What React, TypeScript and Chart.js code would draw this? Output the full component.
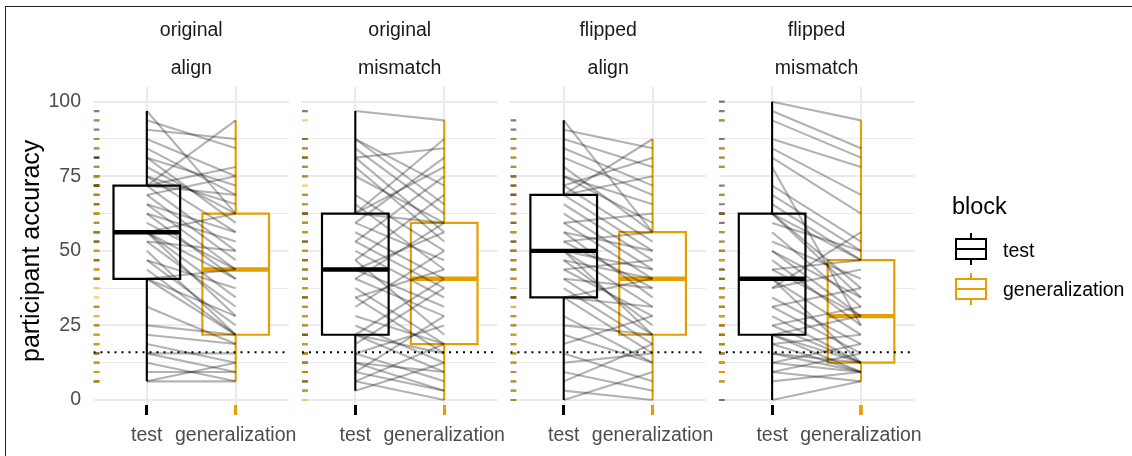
import React, { useEffect, useRef } from 'react';
import { Chart, registerables } from 'chart.js';

Chart.register(...registerables);

// ---------- data ----------
const BLOCKS = ['test', 'generalization'];
const STIMULUS = ['original', 'original', 'flipped', 'flipped'];
const CONDITION = ['align', 'mismatch', 'align', 'mismatch'];
const Y_MAJOR_TICKS = [0, 25, 50, 75, 100];
const Y_MINOR_TICKS = [12.5, 37.5, 62.5, 87.5];
const CHANCE_LEVEL = 16;
const Y_TITLE = 'participant accuracy';
const LEGEND_TITLE = 'block';

// participant accuracy (%) — index k in test and generalization is the same participant
const originalAlignTest = [6.25, 6.25, 9.375, 12.5, 15.625, 15.625, 18.75, 21.875, 25, 31.25, 40.625, 40.625, 40.625, 43.75, 46.875, 46.875, 50, 53.125, 53.125, 56.25, 56.25, 56.25, 56.25, 59.375, 62.5, 62.5, 65.625, 65.625, 68.75, 68.75, 71.875, 71.875, 71.875, 71.875, 75, 75, 78.125, 81.25, 81.25, 84.375, 87.5, 90.625, 93.75, 96.875];
const originalAlignGeneralization = [6.25, 12.5, 9.375, 6.25, 15.625, 9.375, 12.5, 18.75, 21.875, 18.75, 21.875, 28.125, 43.75, 21.875, 25, 37.5, 21.875, 31.25, 50, 28.125, 40.625, 62.5, 34.375, 43.75, 40.625, 53.125, 43.75, 56.25, 46.875, 75, 50, 93.75, 68.75, 78.125, 56.25, 65.625, 62.5, 59.375, 71.875, 68.75, 75, 87.5, 84.375, 62.5];

const originalMismatchTest = [3.125, 6.25, 6.25, 9.375, 9.375, 12.5, 12.5, 15.625, 15.625, 18.75, 21.875, 21.875, 21.875, 25, 28.125, 31.25, 34.375, 34.375, 37.5, 40.625, 40.625, 43.75, 43.75, 46.875, 46.875, 50, 53.125, 53.125, 56.25, 59.375, 59.375, 62.5, 62.5, 62.5, 65.625, 68.75, 75, 78.125, 81.25, 81.25, 84.375, 87.5, 87.5, 96.875];
const originalMismatchGeneralization = [12.5, 0, 18.75, 3.125, 28.125, 9.375, 3.125, 25, 6.25, 37.5, 9.375, 15.625, 40.625, 12.5, 18.75, 50, 15.625, 43.75, 18.75, 59.375, 28.125, 31.25, 56.25, 21.875, 68.75, 34.375, 37.5, 75, 40.625, 46.875, 81.25, 78.125, 59.375, 87.5, 43.75, 50, 59.375, 53.125, 84.375, 56.25, 62.5, 65.625, 71.875, 93.75];

const flippedAlignTest = [0, 3.125, 6.25, 9.375, 12.5, 15.625, 18.75, 21.875, 25, 28.125, 34.375, 34.375, 34.375, 37.5, 40.625, 40.625, 43.75, 43.75, 46.875, 46.875, 50, 50, 50, 53.125, 53.125, 56.25, 56.25, 59.375, 59.375, 62.5, 65.625, 68.75, 68.75, 68.75, 71.875, 71.875, 75, 75, 78.125, 81.25, 84.375, 87.5, 90.625, 93.75];
const flippedAlignGeneralization = [9.375, 0, 18.75, 3.125, 15.625, 6.25, 28.125, 12.5, 21.875, 12.5, 31.25, 15.625, 40.625, 18.75, 21.875, 37.5, 28.125, 46.875, 25, 40.625, 31.25, 43.75, 21.875, 37.5, 56.25, 34.375, 50, 40.625, 62.5, 43.75, 46.875, 50, 75, 87.5, 53.125, 81.25, 59.375, 65.625, 56.25, 68.75, 71.875, 78.125, 84.375, 56.25];

const flippedMismatchTest = [0, 6.25, 9.375, 9.375, 12.5, 12.5, 15.625, 15.625, 18.75, 18.75, 21.875, 21.875, 21.875, 25, 25, 28.125, 31.25, 31.25, 34.375, 37.5, 37.5, 40.625, 40.625, 43.75, 43.75, 46.875, 50, 50, 53.125, 56.25, 59.375, 62.5, 62.5, 62.5, 65.625, 68.75, 71.875, 78.125, 81.25, 84.375, 87.5, 93.75, 96.875, 100];
const flippedMismatchGeneralization = [6.25, 9.375, 6.25, 15.625, 9.375, 18.75, 9.375, 12.5, 21.875, 9.375, 12.5, 28.125, 9.375, 12.5, 31.25, 12.5, 15.625, 37.5, 18.75, 56.25, 43.75, 21.875, 12.5, 28.125, 46.875, 25, 34.375, 28.125, 40.625, 31.25, 50, 34.375, 46.875, 37.5, 46.875, 50, 53.125, 25, 62.5, 68.75, 78.125, 81.25, 84.375, 93.75];

const PANEL_VALUES = [
  [originalAlignTest, originalAlignGeneralization],
  [originalMismatchTest, originalMismatchGeneralization],
  [flippedAlignTest, flippedAlignGeneralization],
  [flippedMismatchTest, flippedMismatchGeneralization],
];

// ---------- layout / style ----------
const W = 1132;
const H = 456;
const FONT = '"Liberation Sans", Arial, Helvetica, sans-serif';
const BASE_SIZE = 19.5;
const PANEL_LEFTS = [93.5, 302, 510.4, 718.8];
const PANEL_W = 195.5;
const PANEL_TOP = 86.8;
const PANEL_BOTTOM = 414.9;
const X_MIN = 0.4;
const X_MAX = 2.6;
const Y_MIN = -5;
const Y_MAX = 105;
const BLOCK_COLORS = ['#000000', '#E69F00'];
const RUG_COLORS = ['rgba(0,0,0,0.5)', 'rgba(230,159,0,0.5)'];
const GRID = '#EBEBEB';

function boxStats(values: number[]) {
  const s = [...values].sort((a, b) => a - b);
  const q = (p: number) => {
    const h = (s.length - 1) * p;
    const lo = Math.floor(h);
    const hi = Math.min(lo + 1, s.length - 1);
    return s[lo] + (h - lo) * (s[hi] - s[lo]);
  };
  const q1 = q(0.25);
  const med = q(0.5);
  const q3 = q(0.75);
  const iqr = q3 - q1;
  const lo = Math.min(...s.filter((v) => v >= q1 - 1.5 * iqr));
  const hi = Math.max(...s.filter((v) => v <= q3 + 1.5 * iqr));
  return { q1, med, q3, lo, hi };
}

function seg(points: { x: number; y: number }[], color: string, width: number, extra: any = {}) {
  return {
    data: points,
    borderColor: color,
    backgroundColor: color,
    borderWidth: width,
    pointRadius: 0,
    pointHoverRadius: 0,
    fill: false,
    tension: 0,
    borderCapStyle: 'butt',
    ...extra,
  };
}

function buildDatasets(panel: number) {
  const values = PANEL_VALUES[panel];
  const ds: any[] = []; // bottom-most first
  const halfBox = 0.375;
  values.forEach((vals, b) => {
    const x = b + 1;
    const s = boxStats(vals);
    const c = BLOCK_COLORS[b];
    ds.push(seg([{ x, y: s.lo }, { x, y: s.q1 }], c, 2.1));
    ds.push(seg([{ x, y: s.q3 }, { x, y: s.hi }], c, 2.1));
    ds.push(
      seg(
        [
          { x: x - halfBox, y: s.q1 },
          { x: x + halfBox, y: s.q1 },
          { x: x + halfBox, y: s.q3 },
          { x: x - halfBox, y: s.q3 },
          { x: x - halfBox, y: s.q1 },
        ],
        c,
        2.2,
        { fill: 'shape', backgroundColor: '#FFFFFF', borderJoinStyle: 'miter', borderCapStyle: 'square' }
      )
    );
    ds.push(seg([{ x: x - halfBox, y: s.med }, { x: x + halfBox, y: s.med }], c, 4.4));
  });
  const [test, gen] = values;
  test.forEach((t, k) => {
    ds.push(seg([{ x: 1, y: t }, { x: 2, y: gen[k] }], 'rgba(0,0,0,0.3)', 2.1));
  });
  const rugX = 0.03 * (X_MAX - X_MIN);
  const rugY = 0.03 * (Y_MAX - Y_MIN);
  values.forEach((vals, b) => {
    vals.forEach((v) => {
      ds.push(seg([{ x: X_MIN, y: v }, { x: X_MIN + rugX, y: v }], RUG_COLORS[b], 2.2));
      ds.push(seg([{ x: b + 1, y: Y_MIN }, { x: b + 1, y: Y_MIN + rugY }], RUG_COLORS[b], 2.2));
    });
  });
  ds.push(
    seg([{ x: X_MIN, y: CHANCE_LEVEL }, { x: X_MAX, y: CHANCE_LEVEL }], '#000000', 2.1, {
      borderDash: [2, 5],
    })
  );
  return ds.reverse(); // Chart.js draws index 0 on top
}

function makeConfig(panel: number): any {
  const first = panel === 0;
  const left = PANEL_LEFTS[panel];
  return {
    type: 'line',
    data: { datasets: buildDatasets(panel) },
    options: {
      animation: false,
      responsive: false,
      maintainAspectRatio: false,
      events: [],
      layout: {
        padding: {
          left: first ? 0 : left,
          right: W - left - PANEL_W,
          top: PANEL_TOP,
          bottom: 0,
        },
      },
      plugins: {
        legend: { display: false },
        tooltip: { enabled: false },
        title: { display: false },
      },
      scales: {
        x: {
          type: 'linear',
          min: X_MIN,
          max: X_MAX,
          afterBuildTicks: (s: any) => {
            s.ticks = BLOCKS.map((_, i) => ({ value: i + 1 }));
          },
          afterFit: (s: any) => {
            s.height = H - PANEL_BOTTOM;
          },
          ticks: {
            autoSkip: false,
            maxRotation: 0,
            minRotation: 0,
            padding: 8.8,
            color: '#4D4D4D',
            font: { family: FONT, size: BASE_SIZE },
            callback: (v: number) => BLOCKS[Math.round(v) - 1] ?? '',
          },
          grid: { color: GRID, lineWidth: 2.1, drawTicks: false },
          border: { display: false },
        },
        y: {
          type: 'linear',
          min: Y_MIN,
          max: Y_MAX,
          afterBuildTicks: (s: any) => {
            s.ticks = [...Y_MAJOR_TICKS, ...Y_MINOR_TICKS]
              .sort((a, b) => a - b)
              .map((v) => ({ value: v }));
          },
          afterFit: (s: any) => {
            s.width = first ? left : 0;
          },
          ticks: {
            display: first,
            autoSkip: false,
            padding: 12.5,
            color: '#4D4D4D',
            font: { family: FONT, size: BASE_SIZE },
            callback: (v: number) => (Y_MAJOR_TICKS.includes(v) ? String(v) : ''),
          },
          grid: {
            color: GRID,
            drawTicks: false,
            lineWidth: (ctx: any) => (Y_MAJOR_TICKS.includes(ctx.tick?.value) ? 2.1 : 1.05),
          },
          border: { display: false },
          title: {
            display: first,
            text: Y_TITLE,
            color: '#000000',
            font: { family: FONT, size: 25 },
            padding: { top: 16.7, bottom: 0 },
          },
        },
      },
    },
  };
}

const textBase: React.CSSProperties = {
  position: 'absolute',
  fontFamily: FONT,
  whiteSpace: 'nowrap',
};

function LegendKey({ color, top }: { color: string; top: number }) {
  return (
    <>
      <div style={{ position: 'absolute', left: 970, top: top - 16, width: 2, height: 32, background: color }} />
      <div
        style={{
          position: 'absolute',
          left: 955,
          top: top - 11,
          width: 32,
          height: 22,
          boxSizing: 'border-box',
          border: `2px solid ${color}`,
          background: '#FFFFFF',
        }}
      />
      <div style={{ position: 'absolute', left: 955, top: top - 1, width: 32, height: 2, background: color }} />
    </>
  );
}

export default function App() {
  const refs = useRef<(HTMLCanvasElement | null)[]>([]);

  useEffect(() => {
    const charts = PANEL_VALUES.map((_, i) => {
      const cv = refs.current[i];
      return cv ? new Chart(cv, makeConfig(i)) : null;
    });
    return () => charts.forEach((c) => c && c.destroy());
  }, []);

  return (
    <div style={{ position: 'absolute', left: 0, top: 0, width: W, height: H, background: '#FFFFFF', overflow: 'hidden' }}>
      {PANEL_VALUES.map((_, i) => (
        <canvas
          key={i}
          ref={(el) => {
            refs.current[i] = el;
          }}
          width={W}
          height={H}
          style={{ position: 'absolute', left: 0, top: 0, width: W, height: H }}
        />
      ))}
      {PANEL_LEFTS.map((left, i) => (
        <React.Fragment key={'strip' + i}>
          <div style={{ ...textBase, left, width: PANEL_W, top: 17.8, textAlign: 'center', fontSize: BASE_SIZE, lineHeight: '22px', color: '#1A1A1A' }}>
            {STIMULUS[i]}
          </div>
          <div style={{ ...textBase, left, width: PANEL_W, top: 56.3, textAlign: 'center', fontSize: BASE_SIZE, lineHeight: '22px', color: '#1A1A1A' }}>
            {CONDITION[i]}
          </div>
        </React.Fragment>
      ))}
      <div style={{ ...textBase, left: 952, top: 192.9, fontSize: 23.5, lineHeight: '26px', color: '#000000' }}>{LEGEND_TITLE}</div>
      {BLOCKS.map((b, i) => (
        <React.Fragment key={'leg' + b}>
          <LegendKey color={BLOCK_COLORS[i]} top={249 + i * 39.5} />
          <div style={{ ...textBase, left: 1003, top: 238.9 + i * 39.5, fontSize: BASE_SIZE, lineHeight: '22px', color: '#000000' }}>{b}</div>
        </React.Fragment>
      ))}
      <div
        style={{
          position: 'absolute',
          left: 5,
          top: 6,
          width: W,
          height: H,
          borderTop: '1.6px solid #222222',
          borderLeft: '1.6px solid #222222',
        }}
      />
    </div>
  );
}
